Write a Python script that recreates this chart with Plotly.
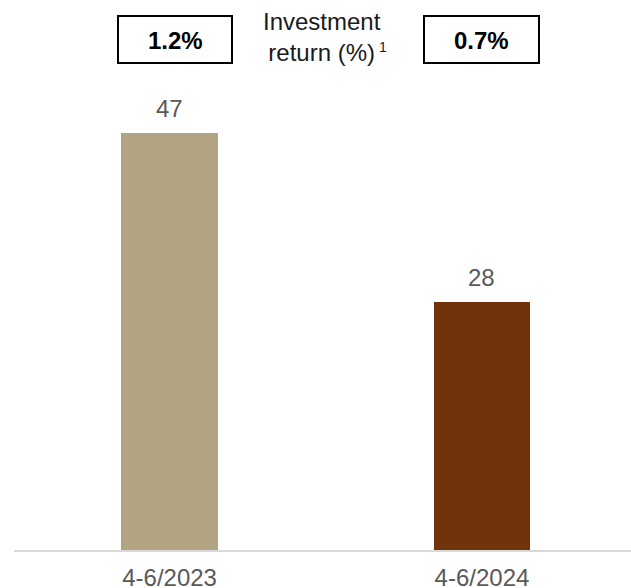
import plotly.graph_objects as go

# Quarterly figures (April-June)
periods = ["4-6/2023", "4-6/2024"]
values = [47, 28]
returns = ["1.2%", "0.7%"]
bar_colors = ["#B2A383", "#71330B"]

FONT = "Liberation Sans, Arial, sans-serif"
W, H = 631, 588
ML, MR, MT, MB = 14, 0, 0, 38

fig = go.Figure(
    go.Bar(
        x=periods,
        y=values,
        marker=dict(color=bar_colors, line=dict(width=0)),
        width=0.31,
        hoverinfo="skip",
    )
)

# Value labels above each bar
for p, v in zip(periods, values):
    fig.add_annotation(
        x=p, y=v, xref="x", yref="y",
        text=str(v), showarrow=False,
        yanchor="bottom", yshift=9,
        font=dict(family=FONT, size=24, color="#595959"),
    )

# Boxed investment-return figures in the header
pw = W - ML - MR
ph = H - MT - MB


def px_x(x):
    return (x - ML) / pw


def px_y(y):
    return (H - MB - y) / ph


box_px = [(118, 232), (424, 539)]
for (x0, x1), r in zip(box_px, returns):
    fig.add_shape(
        type="rect", xref="paper", yref="paper",
        x0=px_x(x0), x1=px_x(x1), y0=px_y(63), y1=px_y(16),
        line=dict(color="#000000", width=2), fillcolor="rgba(0,0,0,0)",
    )
    fig.add_annotation(
        xref="paper", yref="paper",
        x=px_x((x0 + x1) / 2), y=px_y(40),
        text=f"<b>{r}</b>", showarrow=False,
        xanchor="center", yanchor="middle",
        font=dict(family=FONT, size=24, color="#000000"),
    )

fig.add_annotation(
    xref="paper", yref="paper",
    x=px_x(322), y=px_y(37),
    text="Investment<br>return (%)",
    showarrow=False, align="center",
    xanchor="center", yanchor="middle",
    font=dict(family=FONT, size=24, color="#1a1a1a"),
)
fig.add_annotation(
    xref="paper", yref="paper",
    x=px_x(377), y=px_y(47),
    text="1", showarrow=False,
    xanchor="left", yanchor="middle",
    font=dict(family=FONT, size=14, color="#1a1a1a"),
)

fig.update_layout(
    width=W, height=H,
    margin=dict(l=ML, r=MR, t=MT, b=MB),
    paper_bgcolor="white", plot_bgcolor="white",
    showlegend=False,
    bargap=0,
    xaxis=dict(
        range=[-0.498, 1.477],
        showline=True, linecolor="#D9D9D9", linewidth=2,
        showgrid=False, ticks="", zeroline=False,
        automargin=False,
        ticklabelstandoff=5,
        tickfont=dict(family=FONT, size=24, color="#595959"),
    ),
    yaxis=dict(
        range=[0, 62],
        visible=False, showgrid=False, zeroline=False,
        automargin=False,
    ),
)

fig.write_html("out.html")
